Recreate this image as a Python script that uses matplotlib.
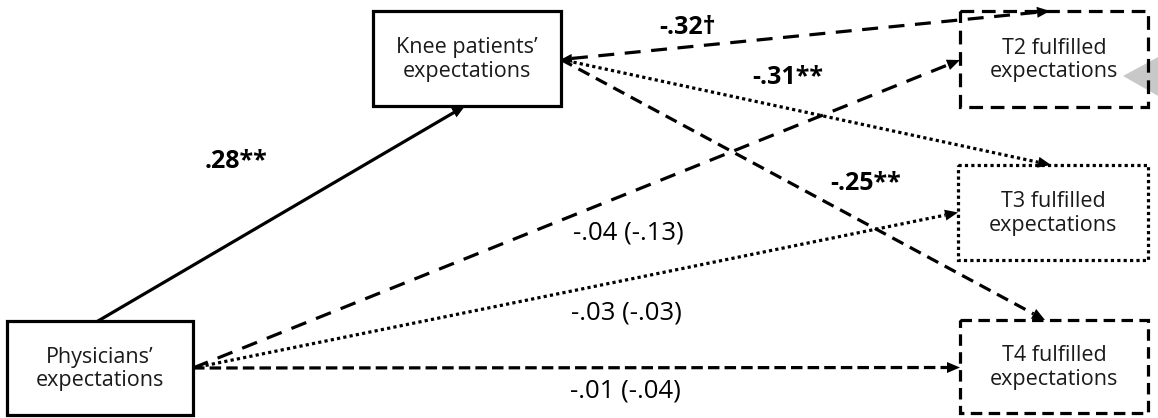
import numpy as np
import matplotlib.pyplot as plt
from matplotlib.patches import Rectangle, Polygon

plt.rcParams['font.family'] = ['Open Sans', 'DejaVu Sans']

# Nodes of the path model
node_keys = ["phys", "knee", "t2", "t3", "t4"]
node_labels = ["Physicians\u2019\nexpectations", "Knee patients\u2019\nexpectations",
               "T2 fulfilled\nexpectations", "T3 fulfilled\nexpectations",
               "T4 fulfilled\nexpectations"]

# Paths: from, to, coefficient text, bold?
path_from = ["phys", "knee", "knee", "knee", "phys", "phys", "phys"]
path_to = ["knee", "t2", "t3", "t4", "t2", "t3", "t4"]
path_coef = [".28**", "-.32\u2020", "-.31**", "-.25**", "-.04 (-.13)", "-.03 (-.03)", "-.01 (-.04)"]
path_bold = [True, True, True, True, False, False, False]

# ---- layout (pixel coordinates, y downwards) ----
box_geom = {"phys": (7, 321, 193, 415), "knee": (373, 11, 561, 106),
            "t2": (960, 11, 1148, 107), "t3": (958, 165, 1148, 260),
            "t4": (960, 320, 1148, 413)}
box_style = {"phys": (0, ()), "knee": (0, ()), "t2": (0, (4.3, 2.4)),
             "t3": (0, (1.0, 1.0)), "t4": (0, (3.6, 2.0))}
# anchor: side, offset along side (pixels from centre)
path_start = [("top", -2), ("right", 1), ("right", 1), ("right", 1),
              ("right", 0), ("right", 0), ("right", 0)]
path_end = [("bottom", -2), ("top", -4), ("top", -2), ("top", -9),
            ("left", 1), ("left", 0), ("left", 1)]
path_style = ["-", (0, (5, 3.3)), (0, (1.0, 1.0)), (0, (3.9, 2.3)),
              (0, (5, 3.3)), (0, (1.0, 1.0)), (0, (3.6, 1.6))]
label_pos = [(236, 161), (688, 28), (788, 78), (866, 184),
             (628, 233), (626, 313), (625, 391)]


def anchor(key, side, off):
    x0, y0, x1, y1 = box_geom[key]
    cx, cy = (x0 + x1) / 2, (y0 + y1) / 2
    if side == "top":
        return np.array([cx + off, y0])
    if side == "bottom":
        return np.array([cx + off, y1])
    if side == "left":
        return np.array([x0, cy + off])
    return np.array([x1, cy + off])


def head(ax, tip, frm, length=13, width=11):
    u = (tip - frm) / np.hypot(*(tip - frm))
    n = np.array([-u[1], u[0]])
    base = tip - u * length
    ax.add_patch(Polygon([tip, base + n * width / 2, base - n * width / 2],
                         closed=True, facecolor="black", edgecolor="none", zorder=4))
    return base


fig = plt.figure(figsize=(11.58, 4.18), dpi=100)
ax = fig.add_axes([0, 0, 1, 1])
ax.set_xlim(0, 1158)
ax.set_ylim(418, 0)
ax.axis("off")

# grey pointer at the right edge
ax.add_patch(Polygon([(1123, 76), (1160, 56), (1160, 97)], closed=True,
                     facecolor="#c8c8c8", edgecolor="none", zorder=1))

for key, lab in zip(node_keys, node_labels):
    x0, y0, x1, y1 = box_geom[key]
    ax.add_patch(Rectangle((x0, y0), x1 - x0, y1 - y0, facecolor="none",
                           edgecolor="black", lw=2.3, linestyle=box_style[key],
                           zorder=3))
    ax.text((x0 + x1) / 2, (y0 + y1) / 2 + 1, lab, ha="center", va="center",
            fontsize=15.5, linespacing=1.15, color="#1a1a1a", zorder=5)

for i in range(len(path_from)):
    s = anchor(path_from[i], *path_start[i])
    e = anchor(path_to[i], *path_end[i])
    base = head(ax, e, s)
    start = s
    if path_from[i] == "knee" and path_to[i] == "t2":
        start = head(ax, s, e, length=11, width=9)
    ax.plot([start[0], base[0]], [start[1], base[1]], color="black", lw=2.3,
            linestyle=path_style[i], dash_capstyle="butt", zorder=2)
    ax.text(*label_pos[i], path_coef[i], ha="center", va="center",
            fontsize=18 if path_bold[i] else 18.5,
            fontweight="bold" if path_bold[i] else "normal",
            color="black", zorder=5)

plt.savefig("out.png", dpi=100)
